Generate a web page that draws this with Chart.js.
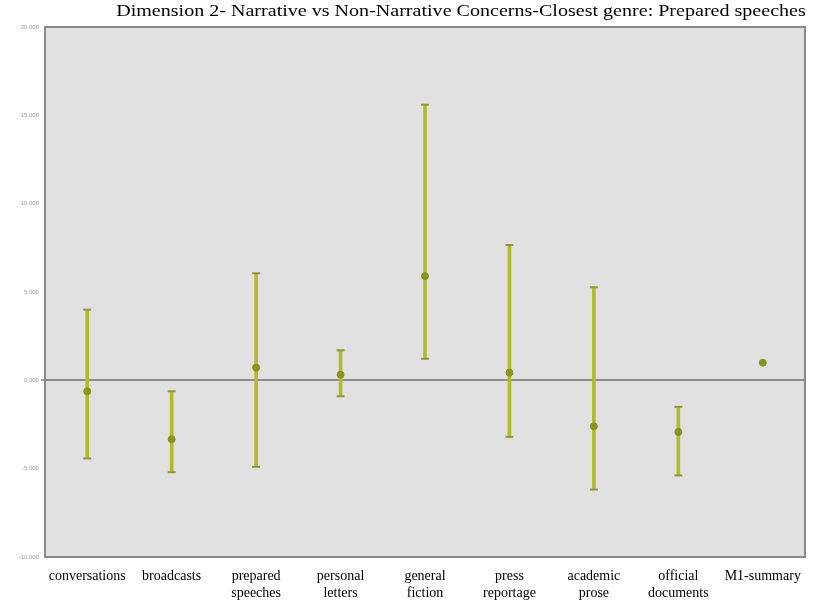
<!DOCTYPE html>
<html>
<head>
<meta charset="utf-8">
<script src="https://cdn.jsdelivr.net/npm/chart.js@4.4.1/dist/chart.umd.min.js"></script>
<style>
  html, body { margin: 0; padding: 0; background: #fff; }
  #wrap { width: 823px; height: 605px; }
</style>
</head>
<body>
<div id="wrap"><canvas id="dimChart" width="823" height="605"></canvas></div>
<script>
// genres on the x axis
const genres = [
    'conversations', ['broadcasts'], ['prepared', 'speeches'], ['personal', 'letters'],
    ['general', 'fiction'], ['press', 'reportage'], ['academic', 'prose'],
    ['official', 'documents'], 'M1-summary'
];
// mean score per genre
const means = [-0.62, -3.33, 0.72, 0.32, 5.9, 0.44, -2.6, -2.92, 1.0];
// upper / lower end of the error bars (no bar for the summary point)
const upper = [4.0, -0.62, 6.06, 1.7, 15.6, 7.66, 5.27, -1.5, null];
const lower = [-4.42, -5.2, -4.9, -0.9, 1.22, -3.2, -6.18, -5.38, null];
// y axis ticks
const yTicks = [-10, -5, 0, 5, 10, 15, 20];
const titleText = 'Dimension 2- Narrative vs Non-Narrative Concerns-Closest genre: Prepared speeches';

const barColor = '#b3bb2c';
const dotColor = '#86951c';

// grey plot background + frame
const plotBackground = {
    id: 'plotBackground',
    beforeDraw(chart) {
        const a = chart.chartArea;
        const c = chart.ctx;
        c.save();
        c.fillStyle = '#e1e1e1';
        c.fillRect(a.left, a.top, a.right - a.left, a.bottom - a.top);
        c.restore();
    },
    afterDraw(chart) {
        const a = chart.chartArea;
        const c = chart.ctx;
        c.save();
        c.strokeStyle = '#8a8a8a';
        c.lineWidth = 2;
        c.strokeRect(a.left, a.top, a.right - a.left, a.bottom - a.top);
        c.restore();
    }
};

// title is a bit stretched sideways in the original, so draw it by hand
const wideTitle = {
    id: 'wideTitle',
    afterDraw(chart) {
        const c = chart.ctx;
        c.save();
        c.font = '17px "Liberation Serif"';
        c.fillStyle = '#000';
        c.textAlign = 'center';
        c.textBaseline = 'middle';
        c.translate(461, 12);
        c.scale(1.18, 1);
        c.fillText(titleText, 0, 0);
        c.restore();
    }
};

// little caps on the ends of each error bar
const errorCaps = {
    id: 'errorCaps',
    afterDatasetsDraw(chart) {
        const x = chart.scales.x, y = chart.scales.y;
        const c = chart.ctx;
        c.save();
        c.strokeStyle = '#8f9838';
        c.lineWidth = 2;
        upper.forEach((hi, i) => {
            if (hi === null) return;
            const px = x.getPixelForValue(i);
            [hi, lower[i]].forEach(v => {
                const py = y.getPixelForValue(v);
                c.beginPath();
                c.moveTo(px - 4, py);
                c.lineTo(px + 4, py);
                c.stroke();
            });
        });
        c.restore();
    }
};

new Chart(document.getElementById('dimChart'), {
    data: {
        labels: genres,
        datasets: [{
            type: 'bar',
            data: upper.map((hi, i) => hi === null ? null : [lower[i], hi]),
            backgroundColor: barColor,
            barThickness: 3,
            order: 2
        }, {
            type: 'line',
            data: means,
            showLine: false,
            pointRadius: 3.5,
            pointBackgroundColor: dotColor,
            pointBorderColor: dotColor,
            order: 1
        }]
    },
    options: {
        responsive: false,
        animation: false,
        layout: { padding: { left: 0, right: 18, top: 27, bottom: 0 } },
        scales: {
            x: {
                offset: true,
                grid: { display: false, drawTicks: true, tickLength: 3 },
                border: { display: false },
                ticks: {
                    color: '#000',
                    maxRotation: 0,
                    autoSkip: false,
                    padding: 8,
                    font: { family: 'Liberation Serif', size: 14 }
                },
                afterFit(s) { s.height = 48; }
            },
            y: {
                min: -10,
                max: 20,
                afterBuildTicks(s) { s.ticks = yTicks.map(v => ({ value: v })); },
                grid: {
                    color: ctx => ctx.tick && ctx.tick.value === 0 ? '#8c8c8c' : 'rgba(0,0,0,0)',
                    lineWidth: ctx => ctx.tick && ctx.tick.value === 0 ? 2 : 0,
                    drawTicks: true,
                    tickLength: 4,
                    tickColor: '#a0a0a0'
                },
                border: { display: false },
                ticks: {
                    color: '#9a9a9a',
                    padding: 2,
                    font: { family: 'Liberation Sans', size: 6 },
                    callback: v => v.toFixed(3)
                },
                afterFit(s) { s.width = 45; }
            }
        },
        plugins: {
            legend: { display: false },
            tooltip: { enabled: false },
            title: { display: false }
        }
    },
    plugins: [plotBackground, errorCaps, wideTitle]
});
</script>
</body>
</html>
